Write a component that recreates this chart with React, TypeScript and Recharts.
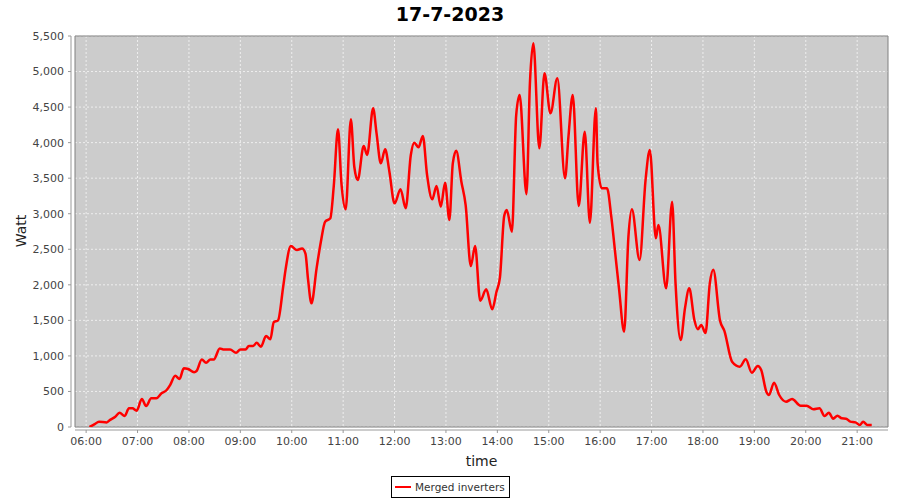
import {
  CartesianGrid,
  Legend,
  Line,
  LineChart,
  ReferenceArea,
  XAxis,
  YAxis,
} from "recharts";

const times = [
  "06:04", "06:10", "06:15", "06:24", "06:28", "06:34", "06:39", "06:45", "06:50", "06:54",
  "06:59", "07:05", "07:10", "07:16", "07:22", "07:28", "07:34", "07:38", "07:44", "07:49",
  "07:54", "07:59", "08:06", "08:09", "08:15", "08:20", "08:25", "08:29", "08:36", "08:40",
  "08:48", "08:55", "09:00", "09:06", "09:10", "09:15", "09:19", "09:24", "09:30", "09:35",
  "09:39", "09:44", "09:50", "09:53", "09:59", "10:06", "10:12", "10:16", "10:19", "10:23",
  "10:29", "10:34", "10:39", "10:45", "10:49", "10:54", "10:58", "11:03", "11:09", "11:13",
  "11:17", "11:24", "11:28", "11:35", "11:39", "11:44", "11:49", "11:54", "12:00", "12:07",
  "12:13", "12:19", "12:23", "12:28", "12:33", "12:38", "12:44", "12:49", "12:54", "12:59",
  "13:04", "13:08", "13:12", "13:18", "13:23", "13:29", "13:34", "13:40", "13:47", "13:54",
  "13:59", "14:03", "14:08", "14:11", "14:17", "14:22", "14:26", "14:34", "14:38", "14:42",
  "14:49", "14:55", "15:02", "15:10", "15:19", "15:23", "15:28", "15:35", "15:42", "15:48",
  "15:55", "15:57", "16:02", "16:08", "16:13", "16:17", "16:22", "16:28", "16:33", "16:37",
  "16:46", "16:53", "16:58", "17:05", "17:08", "17:17", "17:24", "17:28", "17:34", "17:39",
  "17:44", "17:50", "17:54", "17:58", "18:03", "18:08", "18:12", "18:20", "18:25", "18:34",
  "18:43", "18:50", "18:57", "19:04", "19:08", "19:14", "19:17", "19:23", "19:29", "19:37",
  "19:44", "19:54", "20:01", "20:09", "20:16", "20:22", "20:27", "20:32", "20:37", "20:42",
  "20:47", "20:52", "20:58", "21:03", "21:07", "21:12", "21:17",
];

const watts = [
  0, 40, 75, 65, 100, 145, 200, 155, 263, 263,
  230, 394, 295, 403, 403, 474, 520, 590, 722, 675,
  825, 815, 770, 790, 950, 905, 950, 950, 1105, 1090,
  1090, 1045, 1090, 1090, 1140, 1140, 1185, 1130, 1280, 1233,
  1473, 1500, 1973, 2232, 2545, 2490, 2510, 2440, 2080, 1740,
  2232, 2606, 2888, 2935, 3380, 4187, 3428, 3062, 4328, 3661,
  3474, 3952, 3826, 4482, 4131, 3709, 3906, 3591, 3146, 3343,
  3076, 3826, 3999, 3934, 4093, 3544, 3202, 3390, 3099, 3436,
  2911, 3709, 3886, 3450, 3122, 2264, 2545, 1776, 1936, 1655,
  1903, 2100, 2968, 3052, 2747, 4388, 4669, 3275, 4830, 5397,
  3920, 4975, 4412, 4904, 3498, 4083, 4669, 3108, 4153, 2873,
  4482, 3709, 3357, 3357, 2958, 2513, 1950, 1341, 2677, 3062,
  2349, 3474, 3896, 2654, 2841, 1950, 3169, 2020, 1224, 1669,
  1950, 1505, 1374, 1435, 1322, 2020, 2213, 1493, 1352, 918,
  848, 952, 764, 858, 802, 496, 450, 623, 450, 356,
  394, 300, 300, 249, 263, 155, 200, 117, 160, 122,
  117, 75, 65, 28, 75, 28, 28,
];

const xTicks = [
  "06:00", "07:00", "08:00", "09:00", "10:00", "11:00", "12:00", "13:00",
  "14:00", "15:00", "16:00", "17:00", "18:00", "19:00", "20:00", "21:00",
];

const yTicks = [0, 500, 1000, 1500, 2000, 2500, 3000, 3500, 4000, 4500, 5000, 5500];

function toMinutes(t: string) {
  const [h, m] = t.split(":").map(Number);
  return h * 60 + m;
}

function formatMinutes(v: number) {
  const h = Math.floor(v / 60);
  const m = Math.round(v % 60);
  return `${String(h).padStart(2, "0")}:${String(m).padStart(2, "0")}`;
}

const data = times.map((t, i) => ({ t: toMinutes(t), watt: watts[i] }));
const xDomain: [number, number] = [347, 1296];

const font = "'DejaVu Sans', sans-serif";

function LegendBox() {
  return (
    <div
      style={{
        display: "inline-flex",
        alignItems: "center",
        border: "1px solid #000",
        padding: "2px 4px 2px 2px",
        background: "#fff",
        fontFamily: font,
        fontSize: 10.5,
        color: "#333",
        height: 16,
      }}
    >
      <svg width={18} height={10} style={{ marginRight: 3 }}>
        <line x1={1} y1={5} x2={17} y2={5} stroke="#ff0000" strokeWidth={2} />
      </svg>
      Merged inverters
    </div>
  );
}

export default function App() {
  return (
    <div
      style={{
        position: "absolute",
        left: 0,
        top: 0,
        width: 900,
        height: 500,
        background: "#fff",
        fontFamily: font,
      }}
    >
      <div
        style={{
          position: "absolute",
          left: 0,
          top: 0,
          width: 900,
          textAlign: "center",
          fontSize: 19,
          fontWeight: "bold",
          lineHeight: "28px",
          color: "#000",
        }}
      >
        17-7-2023
      </div>
      <LineChart
        width={900}
        height={500}
        data={data}
        margin={{ top: 36, right: 12, left: 0, bottom: 31 }}
      >
        <CartesianGrid
          fill="#cccccc"
          stroke="#eeeeee"
          strokeDasharray="2 2"
          horizontalValues={yTicks}
          verticalValues={xTicks.map(toMinutes)}
        />
        <ReferenceArea
          x1={xDomain[0]}
          x2={xDomain[1]}
          y1={0}
          y2={5500}
          fill="none"
          stroke="#808080"
          strokeWidth={1}
          ifOverflow="visible"
        />
        <XAxis
          dataKey="t"
          type="number"
          domain={xDomain}
          ticks={xTicks.map(toMinutes)}
          tickFormatter={(v) => formatMinutes(Number(v))}
          allowDataOverflow
          height={42}
          tickSize={3}
          tickMargin={7}
          axisLine={{ stroke: "#999", transform: "translate(0,3)" }}
          tickLine={{ stroke: "#999", transform: "translate(0,3)" }}
          tick={{ fontSize: 11, fill: "#444", fontFamily: font }}
          label={{
            value: "time",
            position: "insideBottom",
            offset: 3,
            fontSize: 14,
            fill: "#222",
            fontFamily: font,
          }}
        />
        <YAxis
          type="number"
          domain={[0, 5500]}
          ticks={yTicks}
          allowDataOverflow
          width={75}
          tickSize={3}
          tickMargin={8}
          axisLine={{ stroke: "#999", transform: "translate(-4,0)" }}
          tickLine={{ stroke: "#999", transform: "translate(-4,0)" }}
          tickFormatter={(v) => Number(v).toLocaleString("en-US")}
          tick={{ fontSize: 11, fill: "#444", fontFamily: font }}
          label={{
            content: () => (
              <text
                x={21}
                y={231}
                transform="rotate(-90 21 231)"
                textAnchor="middle"
                dominantBaseline="central"
                fontSize={14}
                fill="#222"
                fontFamily={font}
              >
                Watt
              </text>
            ),
          }}
        />
        <Legend
          verticalAlign="middle"
          align="center"
          layout="horizontal"
          content={() => <LegendBox />}
          wrapperStyle={{ left: 391, top: 476, width: "auto" }}
        />
        <Line
          type="monotone"
          dataKey="watt"
          name="Merged inverters"
          stroke="#ff0000"
          strokeWidth={2.5}
          dot={false}
          isAnimationActive={false}
        />
      </LineChart>
    </div>
  );
}
